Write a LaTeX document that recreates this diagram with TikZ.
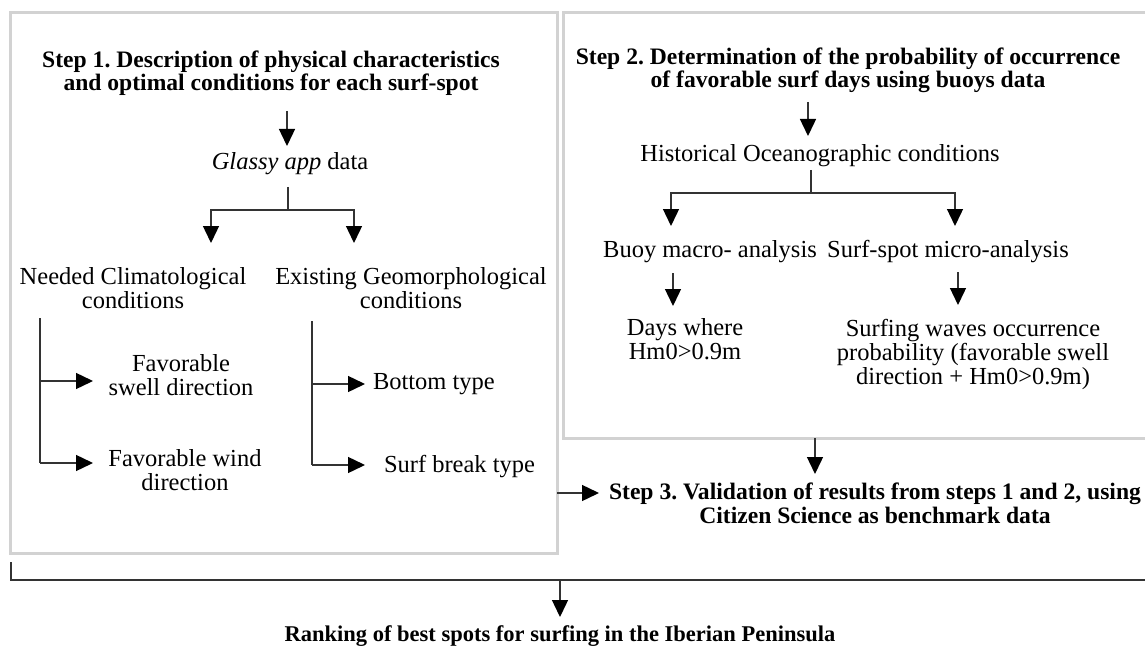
\documentclass[tikz,border=0pt]{standalone}
\usepackage{fontspec}
\setmainfont{Liberation Serif}
\usetikzlibrary{arrows.meta}
\definecolor{framegray}{HTML}{D2D2D2}
\definecolor{inkgray}{HTML}{333333}
\begin{document}
\begin{tikzpicture}[x=1pt,y=-1pt,
  every node/.style={inner sep=0pt, outer sep=0pt, align=center,
    font=\frenchspacing\fontsize{24.5}{23.8}\selectfont, anchor=base},
  title/.style={font=\frenchspacing\fontsize{23.6}{23.8}\selectfont\bfseries},
  panel/.style={draw=framegray, line width=3pt},
  link/.style={draw=inkgray, line width=1.4pt},
  flow/.style={link, -{Triangle[length=17pt,width=16pt,color=black]}}]
\useasboundingbox (0,0) rectangle (1145,647);

% panels
\draw[panel] (10,13) rectangle (557,553);
\draw[panel] (1150,13) -- (563,13) -- (563,438) -- (1150,438);

% ---- step 1 ----
% (multi-line nodes are placed by the baseline of their last line)
\node[title] (s1) at (271,91) {Step 1. Description of physical characteristics\\and optimal conditions for each surf-spot};
\coordinate (s1o) at (287,111);
\coordinate (gla) at (287,146);
\draw[flow] (s1o) -- (gla);
\node (glassy) at (290,170) {\textit{Glassy app} data};
\coordinate (gsplit) at (288,187);
\coordinate (gjoin) at (288,210);
\coordinate (ncTop) at (211,243);
\coordinate (egTop) at (354,243);
\draw[link] (gsplit) -- (gjoin);
\draw[flow] (gjoin) -| (ncTop);
\draw[flow] (gjoin) -| (egTop);
\node (nc) at (133,308) {Needed Climatological\\conditions};
\node (eg) at (411,308) {Existing Geomorphological\\conditions};

% climatological branch
\coordinate (ncA) at (40,318);
\coordinate (ncB) at (40,381);
\coordinate (ncC) at (40,463);
\coordinate (swA) at (93,381);
\coordinate (wdA) at (93,463);
\draw[link] (ncA) -- (ncC);
\draw[flow] (ncB) -- (swA);
\draw[flow] (ncC) -- (wdA);
\node (swell) at (181,395) {Favorable\\swell direction};
\node (wind) at (185,490) {Favorable wind\\direction};

% geomorphological branch
\coordinate (egA) at (312,321);
\coordinate (egB) at (312,384);
\coordinate (egC) at (312,465);
\coordinate (btA) at (365,384);
\coordinate (sbA) at (365,465);
\draw[link] (egA) -- (egC);
\draw[flow] (egB) -- (btA);
\draw[flow] (egC) -- (sbA);
\node[anchor=base west] (bottom) at (373,389) {Bottom type};
\node[anchor=base west] (break) at (384,472) {Surf break type};

% ---- step 2 ----
\node[title] (s2) at (848,88) {Step 2. Determination of the probability of occurrence\\of favorable surf days using buoys data};
\coordinate (s2o) at (808,102);
\coordinate (hoc) at (808,136);
\draw[flow] (s2o) -- (hoc);
\node (hist) at (820,162) {Historical Oceanographic conditions};
\coordinate (hsplit) at (811,170);
\coordinate (hjoin) at (811,193);
\coordinate (bmTop) at (671,226);
\coordinate (smTop) at (955,226);
\draw[link] (hsplit) -- (hjoin);
\draw[flow] (hjoin) -| (bmTop);
\draw[flow] (hjoin) -| (smTop);
\node (buoy) at (710,257) {Buoy macro- analysis};
\node (spot) at (948,257) {Surf-spot micro-analysis};
\coordinate (bmA) at (673,273);
\coordinate (bmB) at (673,306);
\coordinate (smA) at (958,272);
\coordinate (smB) at (958,305);
\draw[flow] (bmA) -- (bmB);
\draw[flow] (smA) -- (smB);
\node (days) at (685,359) {Days where\\Hm0>0.9m};
\node (prob) at (973,384) {Surfing waves occurrence\\probability (favorable swell\\direction + Hm0>0.9m)};

% ---- step 3 ----
\coordinate (p2out) at (815,438);
\coordinate (s3top) at (815,474);
\draw[flow] (p2out) -- (s3top);
\coordinate (p1out) at (557,493);
\coordinate (s3left) at (599,493);
\draw[flow] (p1out) -- (s3left);
\node[title] (s3) at (875,523) {Step 3. Validation of results from steps 1 and 2, using\\Citizen Science as benchmark data};

% ---- ranking ----
\coordinate (rA) at (11,562);
\coordinate (rB) at (11,580);
\coordinate (rC) at (1150,580);
\coordinate (rJoin) at (560,580);
\coordinate (rTop) at (560,617);
\draw[link] (rA) -- (rB) -- (rC);
\draw[flow] (rJoin) -- (rTop);
\node[title, font=\frenchspacing\fontsize{22.5}{23.8}\selectfont\bfseries] (rank) at (560,641) {Ranking of best spots for surfing in the Iberian Peninsula};
\end{tikzpicture}
\end{document}
